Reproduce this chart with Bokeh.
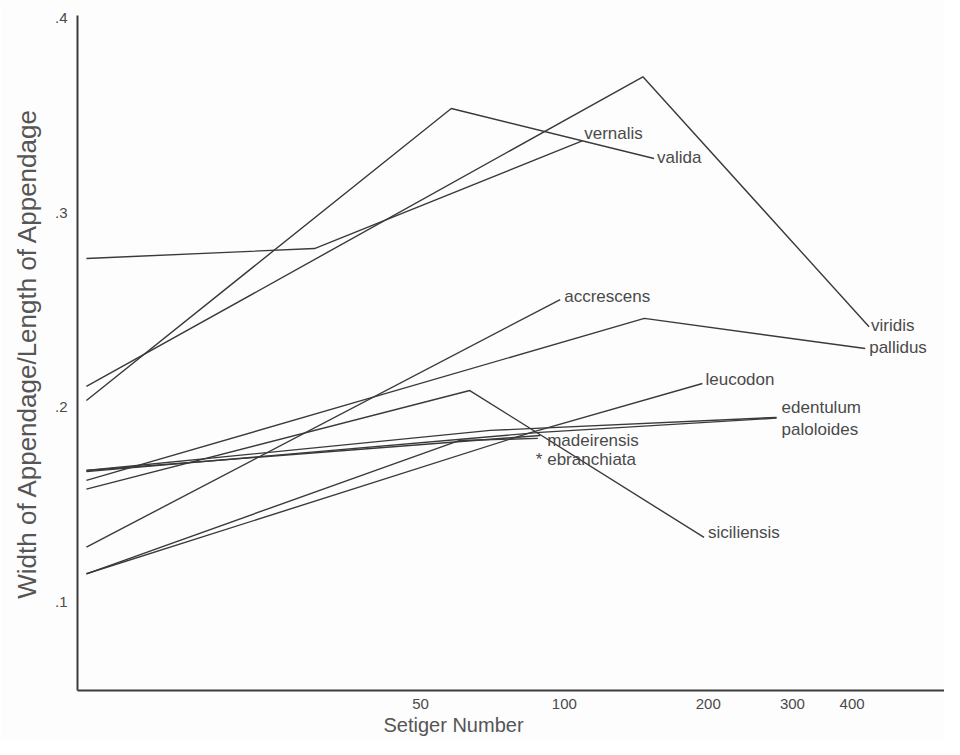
from bokeh.plotting import figure
from bokeh.models import Range1d, FixedTicker, ColumnDataSource, Title
from bokeh.core.properties import value
from bokeh.embed import file_html
from bokeh.resources import INLINE

# ---- data (setiger number, width/length ratio) ----
species = ["vernalis", "viridis", "valida", "pallidus", "siciliensis", "accrescens",
           "leucodon", "edentulum", "paloloides", "madeirensis", "ebranchiata"]

vernalis_x = [10, 30, 109]
vernalis_y = [0.2766, 0.2817, 0.337]
viridis_x = [10, 146, 434]
viridis_y = [0.2108, 0.370, 0.2415]
valida_x = [10, 58, 154]
valida_y = [0.2036, 0.3537, 0.328]
pallidus_x = [10, 147, 426]
pallidus_y = [0.1625, 0.2458, 0.2303]
siciliensis_x = [10, 63.4, 196]
siciliensis_y = [0.158, 0.2087, 0.1332]
accrescens_x = [10, 98]
accrescens_y = [0.1282, 0.2555]
leucodon_x = [10, 85, 194.5]
leucodon_y = [0.1145, 0.1871, 0.2123]
edentulum_x = [10, 70, 278]
edentulum_y = [0.1676, 0.1882, 0.1949]
paloloides_x = [10, 89, 278]
paloloides_y = [0.1670, 0.1872, 0.1945]
madeirensis_x = [10, 89]
madeirensis_y = [0.1676, 0.1856]
ebranchiata_x = [10, 60.2, 88]
ebranchiata_y = [0.1145, 0.1830, 0.1841]

x_ticks = [50, 100, 200, 300, 400]
x_tick_labels = ["50", "100", "200", "300", "400"]
y_ticks = [0.1, 0.2, 0.3, 0.4]
y_tick_labels = [".1", ".2", ".3", ".4"]

series = {
    "vernalis": (vernalis_x, vernalis_y),
    "viridis": (viridis_x, viridis_y),
    "valida": (valida_x, valida_y),
    "pallidus": (pallidus_x, pallidus_y),
    "siciliensis": (siciliensis_x, siciliensis_y),
    "accrescens": (accrescens_x, accrescens_y),
    "leucodon": (leucodon_x, leucodon_y),
    "edentulum": (edentulum_x, edentulum_y),
    "paloloides": (paloloides_x, paloloides_y),
    "madeirensis": (madeirensis_x, madeirensis_y),
    "ebranchiata": (ebranchiata_x, ebranchiata_y),
}

# label text and pixel offsets (style; +y is downward)
label_text = {s: s for s in species}
label_text["ebranchiata"] = "* ebranchiata"
label_off = {
    "vernalis": (2, -7), "viridis": (2, -1), "valida": (3, -1), "pallidus": (4, -1),
    "siciliensis": (4, -5), "accrescens": (4, -3), "leucodon": (3, -4),
    "edentulum": (5, -10), "paloloides": (5, 11), "madeirensis": (7, 5),
    "ebranchiata": (-2, 21),
}

FONT = value("Liberation Sans")
LINE = "#3a3a3a"
TXT = "#4a4a4a"

p = figure(width=944, height=739, x_axis_type="log",
           x_range=Range1d(9.58, 624.2), y_range=Range1d(0.0545, 0.4015),
           output_backend="svg", toolbar_location=None,
           min_border_left=77, min_border_right=0, min_border_top=15, min_border_bottom=49)
p.grid.visible = False
p.outline_line_color = None
p.background_fill_color = "#fdfdfd"
p.border_fill_color = "#fdfdfd"

for s in species:
    xs, ys = series[s]
    src = ColumnDataSource(dict(x=xs, y=ys))
    p.line("x", "y", source=src, line_color=LINE, line_width=1.4)
    dx, dy = label_off[s]
    lsrc = ColumnDataSource(dict(x=[xs[-1]], y=[ys[-1]], t=[label_text[s]]))
    p.text("x", "y", text="t", source=lsrc, x_offset=dx, y_offset=dy,
           text_baseline="middle", text_align="left", text_font=FONT,
           text_font_size="17px", text_color=TXT)

xa = p.xaxis[0]
xa.ticker = FixedTicker(ticks=x_ticks)
xa.major_label_overrides = {t: l for t, l in zip(x_ticks, x_tick_labels)}
xa.minor_tick_line_color = None
xa.major_tick_in = 0
xa.major_tick_out = 0
xa.major_label_standoff = 8
xa.axis_line_width = 2
xa.axis_line_color = "#3c3c3c"
xa.major_label_text_font = "Liberation Sans"
xa.major_label_text_font_size = "15px"
xa.major_label_text_color = TXT

ya = p.yaxis[0]
ya.ticker = FixedTicker(ticks=y_ticks)
ya.major_label_overrides = {t: l for t, l in zip(y_ticks, y_tick_labels)}
ya.minor_tick_line_color = None
ya.major_tick_in = 0
ya.major_tick_out = 0
ya.major_label_standoff = 10
ya.axis_line_width = 2
ya.axis_line_color = "#3c3c3c"
ya.major_label_text_font = "Liberation Sans"
ya.major_label_text_font_size = "15px"
ya.major_label_text_color = TXT
ya.axis_label = "Width of Appendage/Length of Appendage"
ya.axis_label_text_font = "Liberation Sans"
ya.axis_label_text_font_style = "normal"
ya.axis_label_text_font_size = "26px"
ya.axis_label_text_color = "#555555"
ya.axis_label_standoff = 10

xt = Title(text="Setiger Number", align="left", offset=306,
           text_font="Liberation Sans", text_font_size="20px",
           text_font_style="normal", text_color="#555555", standoff=0)
p.add_layout(xt, "below")

open("out.html", "w").write(file_html(p, INLINE))
